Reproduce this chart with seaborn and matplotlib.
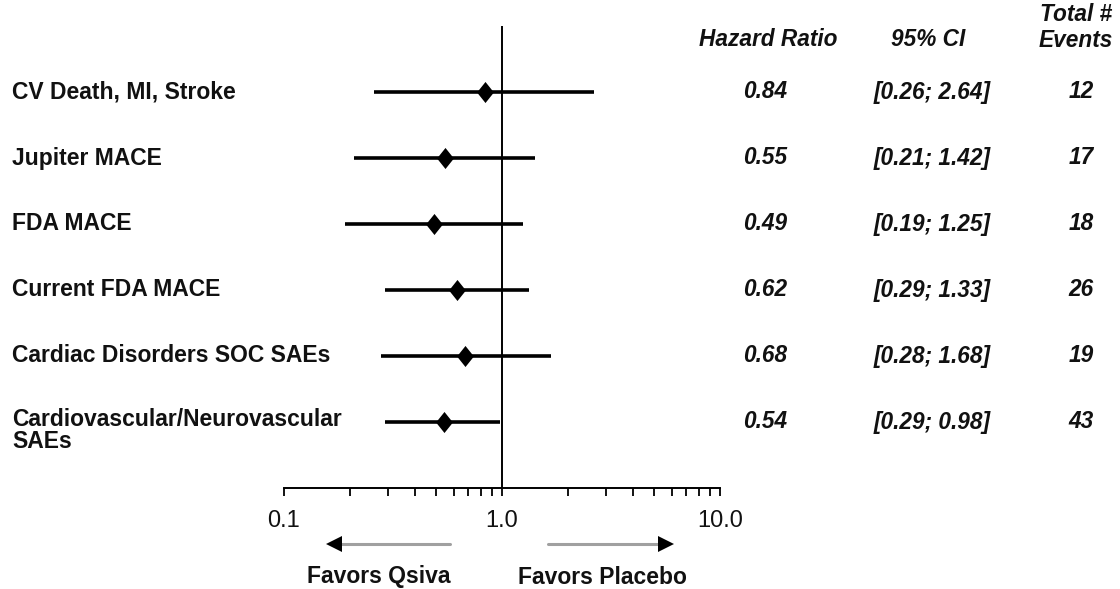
import numpy as np
import pandas as pd
import matplotlib
matplotlib.use("Agg")
import matplotlib.pyplot as plt
import seaborn as sns
from matplotlib import transforms
from matplotlib.lines import Line2D
from matplotlib.ticker import LogLocator, NullFormatter

# ---- data ----
outcomes = ["CV Death, MI, Stroke", "Jupiter MACE", "FDA MACE", "Current FDA MACE",
            "Cardiac Disorders SOC SAEs", "Cardiovascular/Neurovascular\nSAEs"]
hazard_ratio = [0.84, 0.55, 0.49, 0.62, 0.68, 0.54]
ci_low = [0.26, 0.21, 0.19, 0.29, 0.28, 0.29]
ci_high = [2.64, 1.42, 1.25, 1.33, 1.68, 0.98]
total_events = [12, 17, 18, 26, 19, 43]
tick_values = [0.1, 1.0, 10.0]
tick_labels = ["0.1", "1.0", "10.0"]
col_headers = ["Hazard Ratio", "95% CI", "Total #\nEvents"]
favor_labels = ["Favors Qsiva", "Favors Placebo"]

sns.set_theme(style="white")
plt.rcParams["font.family"] = ["Liberation Sans", "DejaVu Sans"]

df = pd.DataFrame({"outcome": outcomes, "hr": hazard_ratio, "lo": ci_low,
                   "hi": ci_high, "events": total_events})
df["row"] = np.arange(len(df))

W, H = 1120, 589
fig = plt.figure(figsize=(W / 100, H / 100), dpi=100)


def fx(px):
    return px / W


def fy(py):
    return 1 - py / H


ax = fig.add_axes([fx(284), fy(488), fx(720) - fx(284), fy(26) - fy(488)])
ax.set_xscale("log")
ax.set_xlim(0.1, 10)
ax.set_ylim(len(df), -1)

ax.axvline(1, color="black", lw=1.4, zorder=1)
ax.hlines(df["row"], df["lo"], df["hi"], color="black", lw=2.6, zorder=2)
diamond = [(0, -1), (0.8, 0), (0, 1), (-0.8, 0), (0, -1)]
sns.scatterplot(data=df, x="hr", y="row", marker=diamond, s=230, color="black",
                edgecolor="black", linewidth=0, zorder=3, ax=ax, legend=False)

sns.despine(ax=ax, left=True)
ax.spines["bottom"].set_color("black")
ax.spines["bottom"].set_linewidth(1.4)
ax.set_yticks([])
ax.set_xlabel("")
ax.set_ylabel("")
ax.set_xticks(tick_values, labels=tick_labels)
ax.xaxis.set_minor_locator(LogLocator(base=10, subs=np.arange(2, 10)))
ax.xaxis.set_minor_formatter(NullFormatter())
ax.tick_params(axis="x", which="both", bottom=True, direction="out", length=6,
               width=1.3, color="black")
ax.tick_params(axis="x", which="major", labelsize=17, pad=10, labelcolor="#111111")

# ---- text columns ----
trans = transforms.blended_transform_factory(fig.transFigure, ax.transData)
for i, lab in enumerate(df["outcome"]):
    if "\n" in lab:
        ax.text(fx(12), i - 0.21, lab, transform=trans, ha="left", va="top",
                fontsize=16.5, fontweight="bold", linespacing=0.95, color="#111111")
    else:
        ax.text(fx(12), i, lab, transform=trans, ha="left", va="center",
                fontsize=16.5, fontweight="bold", color="#111111")

val_kw = dict(transform=trans, va="center", ha="center", fontsize=16.3,
              fontweight="bold", fontstyle="italic", color="#111111")
for i, r in df.iterrows():
    ax.text(fx(765), r["row"], f"{r['hr']:.2f}", **val_kw)
    ax.text(fx(932), r["row"], f"[{r['lo']:.2f}; {r['hi']:.2f}]", **val_kw)
    ax.text(fx(1081), r["row"], f"{int(r['events'])}", **val_kw)

ax.text(fx(768), -0.8, col_headers[0], **val_kw)
ax.text(fx(928), -0.8, col_headers[1], **val_kw)
ax.text(fx(1076), -0.98, col_headers[2], linespacing=1.2, **val_kw)

# ---- favors arrows ----
atr = transforms.blended_transform_factory(ax.transData, fig.transFigure)
ya = fy(544)
fig.add_artist(Line2D([0.577, 0.18], [ya, ya], transform=atr, color="#a0a0a0", lw=2.2))
fig.add_artist(Line2D([0.17], [ya], transform=atr, marker="<", ms=11, color="black",
                      markeredgewidth=0))
fig.add_artist(Line2D([1.63, 5.4], [ya, ya], transform=atr, color="#a0a0a0", lw=2.2))
fig.add_artist(Line2D([5.65], [ya], transform=atr, marker=">", ms=11, color="black",
                      markeredgewidth=0))
fig.text(0.273, fy(577), favor_labels[0], transform=atr, ha="center", va="center",
         fontsize=16.5, fontweight="bold", color="#111111")
fig.text(2.9, fy(577), favor_labels[1], transform=atr, ha="center", va="center",
         fontsize=16.5, fontweight="bold", color="#111111")

fig.savefig("out.png", dpi=100)
